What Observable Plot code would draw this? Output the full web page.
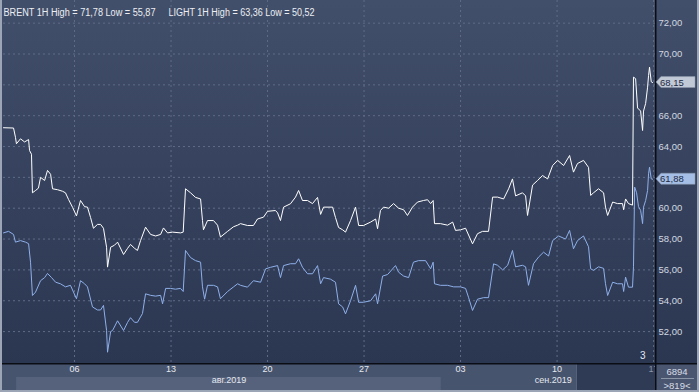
<!DOCTYPE html>
<html><head><meta charset="utf-8">
<script src="https://cdn.jsdelivr.net/npm/d3@7"></script>
<script src="https://cdn.jsdelivr.net/npm/@observablehq/plot@0.6"></script>
<style>
html,body{margin:0;padding:0;background:#9aa3b3;}
#chart{width:699px;height:392px;overflow:hidden;}
svg{display:block}
</style></head><body><div id="chart"></div>
<script>
// x = trading days relative to Tue 06 Aug 2019 00:00 (weekends removed)
const brentT = [-3.68,-3.16,-3.06,-3.01,-2.80,-2.59,-2.38,-2.33,-2.23,-2.18,-2.02,-1.87,-1.76,-1.55,-1.40,-1.24,-1.14,-0.88,-0.62,-0.47,-0.31,-0.10,0.10,0.31,0.52,0.67,0.83,0.98,1.19,1.35,1.50,1.66,1.71,1.87,2.07,2.23,2.54,2.75,2.90,3.11,3.26,3.42,3.68,3.94,4.20,4.46,4.61,4.82,5.08,5.49,5.63,5.75,6.01,6.27,6.53,6.63,6.68,6.89,7.20,7.41,7.56,7.93,8.24,8.45,8.60,8.96,9.27,9.48,9.79,10.00,10.41,10.52,10.67,10.83,11.19,11.45,11.61,11.81,12.07,12.33,12.59,12.75,12.90,13.37,13.52,13.68,13.89,14.04,14.30,14.56,14.72,14.97,15.34,15.60,15.70,15.85,16.01,16.27,16.53,16.79,17.05,17.25,17.51,17.77,18.08,18.29,18.45,18.58,18.65,18.96,19.33,19.59,19.74,20.00,20.26,20.62,20.88,21.14,21.45,21.66,21.92,22.23,22.49,22.69,22.85,23.21,23.37,23.47,23.73,23.99,24.25,24.51,24.77,25.03,25.34,25.65,25.85,26.06,26.37,26.63,26.74,26.89,27.15,27.41,27.51,27.62,27.88,28.13,28.39,28.45,28.55,28.70,28.91,28.96,29.07,29.17,29.33,29.43,29.48,29.59,29.69,29.74,29.79,29.88,29.95];
const brent = [65.22,65.2,64.6,64.18,64.5,64.3,64.45,63.74,63.5,61.0,61.15,61.3,62.0,61.8,62.45,62.2,61.26,61.2,61.1,61.0,60.57,60.05,59.5,60.5,60.1,60.07,59.4,58.7,58.95,58.95,58.7,57.47,56.18,57.47,57.6,57.8,57.0,57.4,57.65,57.4,57.26,57.9,58.77,58.3,58.2,58.3,58.72,58.4,58.45,58.4,58.45,61.26,61.0,60.7,60.6,59.2,58.6,59.2,59.2,58.9,58.13,58.5,58.8,58.9,59.0,58.88,58.88,59.3,59.42,59.8,59.85,59.7,59.2,60.07,60.29,60.72,61.15,60.5,60.5,60.3,60.7,59.6,60.07,60.07,59.4,58.75,58.6,58.45,59.2,60.07,58.88,58.88,59.1,59.3,58.67,59.85,60.07,60.0,60.3,60.0,59.9,59.53,60.07,60.4,60.5,60.55,60.3,60.5,59.0,59.0,58.9,59.1,58.56,58.6,58.7,57.69,58.35,58.5,58.5,60.72,60.72,60.6,61.26,61.9,60.8,61.0,60.8,59.53,61.5,61.8,62.12,61.9,62.77,63.1,62.77,63.42,62.34,62.9,63.1,62.65,60.83,61.0,61.26,61.0,60.07,59.53,60.4,60.3,60.3,59.9,60.6,60.3,60.2,68.5,68.4,66.5,66.3,65.04,66.3,66.8,67.85,68.6,69.15,68.2,68.15];
const lightT = [-3.68,-3.42,-3.16,-3.06,-2.80,-2.54,-2.38,-2.28,-2.18,-2.02,-1.76,-1.55,-1.40,-1.19,-0.98,-0.73,-0.47,-0.21,0.10,0.31,0.52,0.67,0.93,1.19,1.35,1.50,1.66,1.71,1.87,1.97,2.23,2.54,2.75,2.90,3.11,3.26,3.52,3.68,3.94,4.20,4.46,4.56,4.72,4.97,5.23,5.49,5.63,5.75,6.01,6.27,6.53,6.63,6.74,6.89,7.20,7.41,7.56,7.93,8.24,8.45,8.60,8.96,9.27,9.64,9.90,10.16,10.52,10.67,10.83,11.19,11.45,11.61,11.81,12.07,12.33,12.59,12.75,12.90,13.26,13.52,13.68,13.89,14.04,14.30,14.56,14.72,14.97,15.34,15.60,15.70,15.96,16.22,16.63,16.79,17.05,17.31,17.56,17.82,18.19,18.45,18.58,18.65,18.96,19.33,19.64,20.00,20.26,20.41,20.62,20.88,21.19,21.45,21.71,21.92,22.18,22.44,22.69,22.85,23.21,23.37,23.52,23.78,24.04,24.30,24.56,24.77,25.08,25.44,25.65,25.85,26.06,26.37,26.63,26.74,26.89,27.15,27.41,27.51,27.62,27.88,28.13,28.39,28.45,28.55,28.70,28.91,28.96,29.02,29.12,29.22,29.33,29.43,29.48,29.59,29.69,29.74,29.79,29.88,29.95];
const light = [58.4,58.5,58.3,57.8,57.9,57.8,57.7,56.5,54.34,54.56,55.3,55.5,55.77,55.5,55.2,55.1,54.9,55.0,54.13,55.3,55.1,54.9,53.6,53.4,53.4,53.7,52.07,50.66,52.0,52.07,52.7,52.07,52.6,52.9,52.6,52.6,53.17,54.45,54.35,54.3,54.35,53.8,54.8,54.8,54.75,54.8,54.6,57.26,56.8,56.6,56.5,54.9,54.1,55.0,55.0,54.9,54.13,54.6,54.9,55.1,55.0,54.88,55.3,55.2,56.07,56.17,56.28,55.5,56.28,56.4,56.4,56.72,56.17,55.75,55.75,56.28,55.1,55.5,55.4,55.2,53.8,53.6,53.15,54.0,55.0,53.9,53.9,54.0,54.45,53.8,55.6,55.7,56.28,55.85,55.6,55.5,56.5,56.6,56.6,56.07,56.5,55.1,55.0,55.0,54.9,54.9,54.8,54.23,53.37,54.1,54.2,54.2,56.39,56.3,56.0,56.3,57.26,56.2,56.3,56.2,55.0,56.4,56.83,57.15,56.9,57.9,58.2,58.0,58.56,57.37,57.9,58.2,57.5,56.07,55.97,56.2,56.1,55.1,54.34,55.2,55.1,55.1,54.6,55.53,54.88,54.88,56.2,61.37,61.0,60.1,59.86,59.0,60.07,60.5,61.15,62.23,62.66,61.9,61.88];

const yTicks = [52,54,56,58,60,62,64,66,68,70,72];
const dayTicks = [0,5,10,15,20,25,30];
const dayLabels = ["06","13","20","27","03","10","17"];
const months = ["авг.2019","сен.2019"];
const monthStart = [-3,19];
const monthMid = [8,24.8];
const headers = ["BRENT 1H High = 71,78 Low = 55,87","LIGHT 1H High = 63,36 Low = 50,52"];
const lastLabels = ["68,15","61,88"];
const lastValues = [68.15,61.88];
const highlightStart = 26.06;
const statusTexts = ["6894",">819<"];
const barsMark = "3";

const W = 699, H = 392;
const fmt = d => d.toFixed(2).replace(".", ",");
const brentData = brentT.map((t,i)=>({t, v: brent[i]}));
const lightData = lightT.map((t,i)=>({t, v: light[i]}));
// tick labels hidden behind the last-value boxes are not drawn
const shownYTicks = yTicks.filter(t => lastValues.every(v => Math.abs(v - t) > 0.6));
const FONT = "'Liberation Sans', Arial, sans-serif";

const plot = Plot.plot({
  width: W, height: H,
  marginLeft: 3, marginRight: 44, marginTop: 0, marginBottom: 29,
  x: {domain: [-3.68, 30.1], label: null},
  y: {domain: [49.93, 73.47], label: null},
  style: {background: "none", fontFamily: FONT, fontSize: "9px", overflow: "visible"},
  marks: [
    Plot.gridY(yTicks, {stroke: "#5f6c87", strokeOpacity: 1, strokeDasharray: "2,3"}),
    Plot.gridX(dayTicks, {stroke: "#5f6c87", strokeOpacity: 1, strokeDasharray: "2,3"}),
    Plot.axisY(shownYTicks, {anchor: "right", tickSize: 0, tickPadding: 3, tickFormat: fmt, fill: "#d3d8e1", fontSize: 9.5, label: null}),
    Plot.axisX(dayTicks, {anchor: "bottom", tickSize: 0, tickPadding: 2.5, tickFormat: d => dayLabels[dayTicks.indexOf(d)], fill: "#e4e8ef", fontSize: 9, label: null}),
    Plot.line(lightData, {x: "t", y: "v", stroke: "#8fb0ea", strokeWidth: 1}),
    Plot.line(brentData, {x: "t", y: "v", stroke: "#ffffff", strokeWidth: 1}),
    Plot.text(months, {x: (d,i) => monthMid[i], frameAnchor: "bottom", dy: 19.5, fill: "#e4e8ef", fontSize: 9}),
    Plot.text([headers[0]], {frameAnchor: "top-left", dx: 0, dy: 8, textAnchor: "start", fill: "#eceef3", fontSize: 10}),
    Plot.text([headers[1]], {frameAnchor: "top-left", dx: 165, dy: 8, textAnchor: "start", fill: "#eceef3", fontSize: 10}),
    Plot.text([barsMark], {frameAnchor: "bottom-right", dx: -10, dy: -5, fill: "#e2e8f4", fontSize: 10})
  ]
});

const svg = d3.select(plot);
const x = plot.scale("x"), y = plot.scale("y");
const fx1 = W - 44, fy1 = H - 29;

svg.selectAll("text").each(function(){
  const s = this.textContent;
  if (s === headers[0]) { d3.select(this).attr("textLength", 152).attr("lengthAdjust", "spacingAndGlyphs"); }
  if (s === headers[1]) { d3.select(this).attr("textLength", 146).attr("lengthAdjust", "spacingAndGlyphs"); }
  if (s === dayLabels[dayLabels.length-1]) d3.select(this).attr("fill", "#8a94a7");
});

// backgrounds
const bg = svg.insert("g", ":first-child");
const defs = bg.append("defs");
const g1 = defs.append("linearGradient").attr("id", "plotbg").attr("x1", 0).attr("y1", 0).attr("x2", 0).attr("y2", 1);
g1.append("stop").attr("offset", "0%").attr("stop-color", "#424f6a");
g1.append("stop").attr("offset", "100%").attr("stop-color", "#2b3651");
bg.append("rect").attr("x", 0).attr("y", 0).attr("width", W).attr("height", fy1).attr("fill", "url(#plotbg)");
bg.append("rect").attr("x", 0).attr("y", fy1).attr("width", W).attr("height", H - fy1).attr("fill", "#47546e");
bg.append("rect").attr("x", x.apply(monthStart[0])).attr("y", 377).attr("width", x.apply(monthStart[1]) - x.apply(monthStart[0])).attr("height", 13).attr("fill", "#56627c");
bg.append("rect").attr("x", x.apply(highlightStart)).attr("y", fy1).attr("width", fx1 - x.apply(highlightStart)).attr("height", H - fy1).attr("fill", "#2f3a55");
bg.append("rect").attr("x", x.apply(highlightStart) - 1).attr("y", fy1).attr("width", 1).attr("height", H - fy1).attr("fill", "#56627c");

// overlays
const ov = svg.append("g").attr("text-anchor", "start");
ov.append("rect").attr("x", fx1).attr("y", fy1).attr("width", W - fx1).attr("height", H - fy1).attr("fill", "#4a5670");
ov.append("line").attr("x1", 661).attr("x2", 694).attr("y1", 378.5).attr("y2", 378.5).attr("stroke", "#8b95a8");
ov.append("text").attr("x", 677).attr("y", 371).attr("text-anchor", "middle").attr("dominant-baseline", "central").attr("fill", "#d8dde6").attr("font-size", 9.5).attr("font-family", FONT).text(statusTexts[0]);
ov.append("text").attr("x", 677).attr("y", 385).attr("text-anchor", "middle").attr("dominant-baseline", "central").attr("fill", "#d8dde6").attr("font-size", 9.5).attr("font-family", FONT).text(statusTexts[1]);
ov.append("rect").attr("x", 0).attr("y", 0).attr("width", 2).attr("height", H).attr("fill", "#9ca5b5");
ov.append("rect").attr("x", 0).attr("y", H - 2).attr("width", W).attr("height", 2).attr("fill", "#9ca5b5");
ov.append("rect").attr("x", W - 2).attr("y", 0).attr("width", 2).attr("height", H).attr("fill", "#9ca5b5");
ov.append("rect").attr("x", fx1).attr("y", 0).attr("width", 1.5).attr("height", H - 2).attr("fill", "#0a0d14");
ov.append("rect").attr("x", 2).attr("y", fy1).attr("width", W - 4).attr("height", 1.5).attr("fill", "#0a0d14");

// last value labels
const boxFill = ["#c1c9d7", "#a4bee6"];
lastValues.forEach((v, i) => {
  const yy = y.apply(v);
  ov.append("path")
    .attr("d", `M${fx1+1},${yy} L${fx1+6},${yy-5.5} L${W-4},${yy-5.5} L${W-4},${yy+5.5} L${fx1+6},${yy+5.5} Z`)
    .attr("fill", boxFill[i]).attr("stroke", "#8d97aa").attr("stroke-width", 0.5);
  ov.append("text").attr("x", 660).attr("y", yy).attr("text-anchor", "start").attr("dominant-baseline", "central")
    .attr("fill", "#1e2a42").attr("font-size", 9.5).attr("font-family", FONT).text(lastLabels[i]);
});

document.getElementById("chart").appendChild(plot);
</script>
</body></html>
